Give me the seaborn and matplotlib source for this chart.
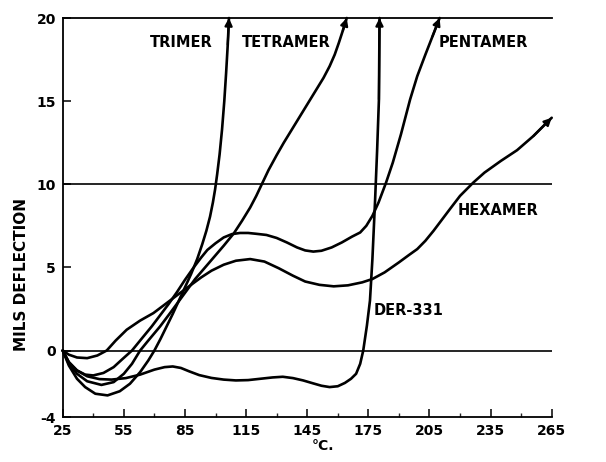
import matplotlib
matplotlib.use("Agg")
import matplotlib.pyplot as plt
import seaborn as sns
import pandas as pd

# curves (temperature in deg C, deflection in mils)
trimer_x = [25, 28, 32, 36, 41, 47, 53, 58, 63, 67, 70, 73, 76, 79, 82, 85, 88, 91,
            93.5, 95.5, 97.3, 98.7, 99.8, 100.8, 102, 103.2, 104.3, 105.2, 106, 106.6]
trimer_y = [0, -0.9, -1.7, -2.2, -2.6, -2.7, -2.45, -2.0, -1.3, -0.6, 0, 0.7, 1.45, 2.2,
            3.0, 3.8, 4.6, 5.5, 6.4, 7.2, 8.05, 8.9, 9.7, 10.6, 11.8, 13.3, 15.0, 16.7,
            18.4, 20.0]

tetramer_x = [25, 28, 32, 37, 44, 50, 55, 59, 63, 67, 72.8, 78, 84, 90, 97, 104, 109, 113,
              117, 120, 122.7, 126, 130, 133.5, 137, 141, 145, 149, 153, 156, 158.5,
              160.5, 162.5, 164.4]
tetramer_y = [0, -0.8, -1.4, -1.85, -2.07, -1.9, -1.4, -0.8, 0, 0.6, 1.45, 2.3, 3.3, 4.3,
              5.3, 6.3, 7.05, 7.8, 8.6, 9.3, 10.0, 10.85, 11.75, 12.5, 13.2, 14.0, 14.8,
              15.6, 16.4, 17.1, 17.8, 18.5, 19.25, 20.0]

pentamer_x = [25, 28, 32, 36, 40, 45, 50, 54, 59, 64, 68.7, 73, 77, 81, 85, 89, 93, 96,
              100, 104, 108, 112, 116, 120, 125, 130, 135, 140, 144, 148, 152, 157, 162,
              167, 171, 174, 177, 180, 183.7, 187, 191, 195.5, 199, 203, 206.5, 210]
pentamer_y = [0, -0.7, -1.2, -1.45, -1.5, -1.35, -1.0, -0.55, 0, 0.75, 1.45, 2.15, 2.8,
              3.5, 4.25, 4.95, 5.6, 6.05, 6.45, 6.8, 7.0, 7.07, 7.07, 7.02, 6.95, 6.77,
              6.5, 6.2, 6.02, 5.95, 6.0, 6.2, 6.5, 6.85, 7.1, 7.5, 8.1, 8.9, 10.1, 11.3,
              13.0, 15.1, 16.5, 17.8, 18.9, 20.0]

hexamer_x = [25, 28, 32, 37, 42, 46.6, 51, 56.4, 63, 69.5, 76, 82.6, 88, 93, 98, 104, 110,
             117, 124, 131, 138, 144, 151, 158, 165, 172, 177, 183, 190, 195, 199, 203,
             207, 211, 215, 220, 226.5, 232, 240, 248, 256, 265]
hexamer_y = [0, -0.25, -0.42, -0.46, -0.3, 0, 0.6, 1.25, 1.8, 2.25, 2.85, 3.46, 3.95, 4.4,
             4.8, 5.16, 5.4, 5.5, 5.35, 4.95, 4.5, 4.15, 3.95, 3.86, 3.92, 4.1, 4.3, 4.7,
             5.3, 5.75, 6.1, 6.6, 7.2, 7.85, 8.5, 9.3, 10.1, 10.7, 11.4, 12.05, 12.9, 14.0]

der331_x = [25, 28, 32, 37, 43, 49, 56, 63, 70, 75, 79, 83, 87, 92, 98, 104, 110, 116, 122,
            128, 133, 138, 143, 148, 152, 156, 160, 163.5, 166.5, 169, 171, 172.5, 174.3,
            175.8, 177, 178.3, 179.3, 180.2, 180.5]
der331_y = [0, -0.7, -1.2, -1.55, -1.72, -1.75, -1.66, -1.45, -1.15, -1.0, -0.96, -1.05,
            -1.25, -1.48, -1.65, -1.75, -1.8, -1.78, -1.7, -1.62, -1.58, -1.66, -1.8, -1.98,
            -2.12, -2.2, -2.15, -1.95, -1.7, -1.4, -0.8, 0, 1.5, 3.0, 5.5, 9.0, 12.0, 15.1, 20.0]

curve_names = ["TRIMER", "TETRAMER", "PENTAMER", "HEXAMER", "DER-331"]
label_x = [83, 134.5, 231.5, 238.5, 194.5]
label_y = [18.5, 18.5, 18.5, 8.4, 2.4]

x_ticks = [25, 55, 85, 115, 145, 175, 205, 235, 265]
y_ticks = [-4, 0, 5, 10, 15, 20]
ref_lines = [0, 10]


def main():
    curves = {
        "TRIMER": (trimer_x, trimer_y),
        "TETRAMER": (tetramer_x, tetramer_y),
        "PENTAMER": (pentamer_x, pentamer_y),
        "HEXAMER": (hexamer_x, hexamer_y),
        "DER-331": (der331_x, der331_y),
    }

    sns.set_theme(style="ticks")
    plt.rcParams["font.family"] = ["DejaVu Sans"]
    plt.rcParams["axes.unicode_minus"] = False

    fig = plt.figure(figsize=(6.06, 4.62), dpi=100)
    ax = fig.add_axes([0.1035, 0.0974, 0.8069, 0.8636])

    for y in ref_lines:
        ax.axhline(y, color="black", lw=1.2, zorder=1)

    for name in curve_names:
        xs, ys = curves[name]
        df = pd.DataFrame({"temp": xs, "defl": ys})
        sns.lineplot(data=df, x="temp", y="defl", sort=False, estimator=None,
                     color="black", lw=1.9, ax=ax, clip_on=False, zorder=3)
        ax.annotate("", xy=(xs[-1], ys[-1]), xytext=(xs[-2], ys[-2]),
                    arrowprops=dict(arrowstyle="-|>", color="black", lw=1.6,
                                    mutation_scale=11, shrinkA=0, shrinkB=0),
                    annotation_clip=False, zorder=4)

    for name, lx, ly in zip(curve_names, label_x, label_y):
        ax.text(lx, ly, name, ha="center", va="center", fontsize=10.5,
                fontweight="bold", color="black")

    ax.set_xlim(25, 265)
    ax.set_ylim(-4, 20)
    ax.set_xticks(x_ticks)
    ax.set_xticks([t + 15 for t in x_ticks[:-1]], minor=True)
    ax.set_yticks(y_ticks)
    ax.tick_params(axis="both", which="major", direction="in", length=5.5, width=1.1,
                   labelsize=10, colors="black", pad=5)
    ax.tick_params(axis="x", which="minor", direction="in", length=3, width=1.0)
    for lab in ax.get_xticklabels() + ax.get_yticklabels():
        lab.set_fontweight("bold")

    ax.set_xlabel("°C.", fontsize=10, fontweight="bold", color="black")
    ax.xaxis.set_label_coords(0.532, -0.055)
    ax.set_ylabel("MILS DEFLECTION", fontsize=11, fontweight="bold", color="black")
    ax.yaxis.set_label_coords(-0.068, 0.356)

    ax.spines["right"].set_visible(False)
    for side in ["left", "top", "bottom"]:
        ax.spines[side].set_linewidth(1.3)
        ax.spines[side].set_color("black")
    ax.grid(False)

    fig.savefig("out.png", dpi=100, facecolor="white")


if __name__ == "__main__":
    main()
